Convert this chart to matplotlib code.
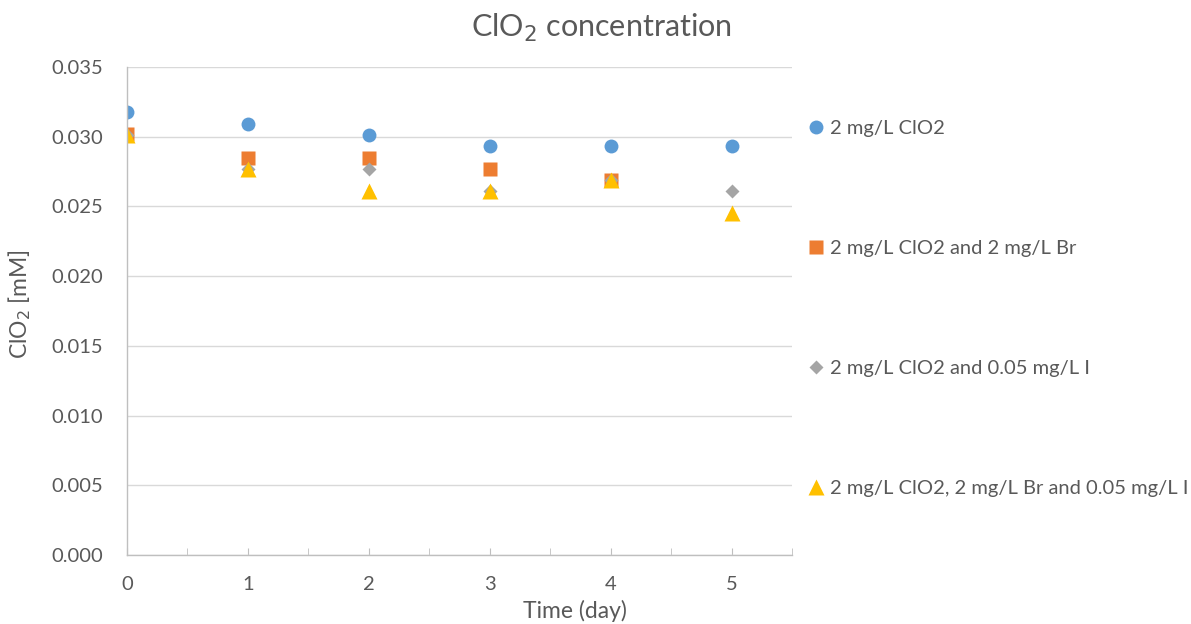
import matplotlib
matplotlib.use("Agg")
import matplotlib.pyplot as plt
from matplotlib.ticker import MultipleLocator, FormatStrFormatter

plt.rcParams["font.family"] = ["Lato", "DejaVu Sans"]

# ClO2 measurements per day (mM)
days = [0, 1, 2, 3, 4, 5]
clo2_only = [0.0318, 0.0309, 0.0301, 0.0293, 0.0293, 0.0293]
clo2_br_days = [0, 1, 2, 3, 4]
clo2_br = [0.0302, 0.0285, 0.0285, 0.0277, 0.0269]
clo2_i = [0.0301, 0.0277, 0.0277, 0.0261, 0.0269, 0.0261]
clo2_br_i = [0.0301, 0.0277, 0.0261, 0.0261, 0.0269, 0.0245]

labels = [
    "2 mg/L ClO2",
    "2 mg/L ClO2 and 2 mg/L Br",
    "2 mg/L ClO2 and 0.05 mg/L I",
    "2 mg/L ClO2, 2 mg/L Br and 0.05 mg/L I",
]
colors = ["#5B9BD5", "#ED7D31", "#A5A5A5", "#FFC000"]
text_col = "#595959"

fig = plt.figure(figsize=(11.91, 6.24), dpi=100)
ax = fig.add_axes([0.1066, 0.1106, 0.5584, 0.782])

ax.plot(days, clo2_only, "o", ms=10, color=colors[0], mec="none", label=labels[0])
ax.plot(clo2_br_days, clo2_br, "s", ms=9.5, color=colors[1], mec="none", label=labels[1])
ax.plot(days, clo2_i, "D", ms=7.5, color=colors[2], mec="none", label=labels[2])
ax.plot(days, clo2_br_i, "^", ms=11, color=colors[3], mec="none", label=labels[3])

ax.set_xlim(0, 5.5)
ax.set_ylim(0, 0.035)
ax.xaxis.set_major_locator(MultipleLocator(1))
ax.xaxis.set_minor_locator(MultipleLocator(0.5))
ax.yaxis.set_major_locator(MultipleLocator(0.005))
ax.yaxis.set_major_formatter(FormatStrFormatter("%.3f"))

ax.grid(axis="y", color="#D9D9D9", lw=1)
ax.set_axisbelow(True)
for s in ["top", "right"]:
    ax.spines[s].set_visible(False)
for s in ["left", "bottom"]:
    ax.spines[s].set_color("#BFBFBF")
    ax.spines[s].set_linewidth(1)

ax.tick_params(axis="y", length=0, labelsize=14.5, labelcolor=text_col, pad=17)
ax.tick_params(axis="x", which="both", direction="in", length=5, color="#BFBFBF",
               labelsize=14.5, labelcolor=text_col, pad=15)

ax.set_xlabel("Time (day)", fontsize=16.5, color=text_col)
ax.xaxis.set_label_coords(0.674, -0.093)
ax.set_ylabel("ClO$_2$ [mM]", fontsize=16.5, color=text_col)
ax.yaxis.set_label_coords(-0.141, 0.514)

fig.text(0.505, 0.955, "ClO$_2$ concentration", fontsize=22, color=text_col,
         ha="center", va="center")

fig.legend(loc="upper left", bbox_to_anchor=(0.672, 0.82), frameon=False,
           fontsize=14.5, labelcolor=text_col, labelspacing=5.1,
           handlelength=0.75, handletextpad=0.3, borderaxespad=0)

fig.savefig("out.png", dpi=100)
